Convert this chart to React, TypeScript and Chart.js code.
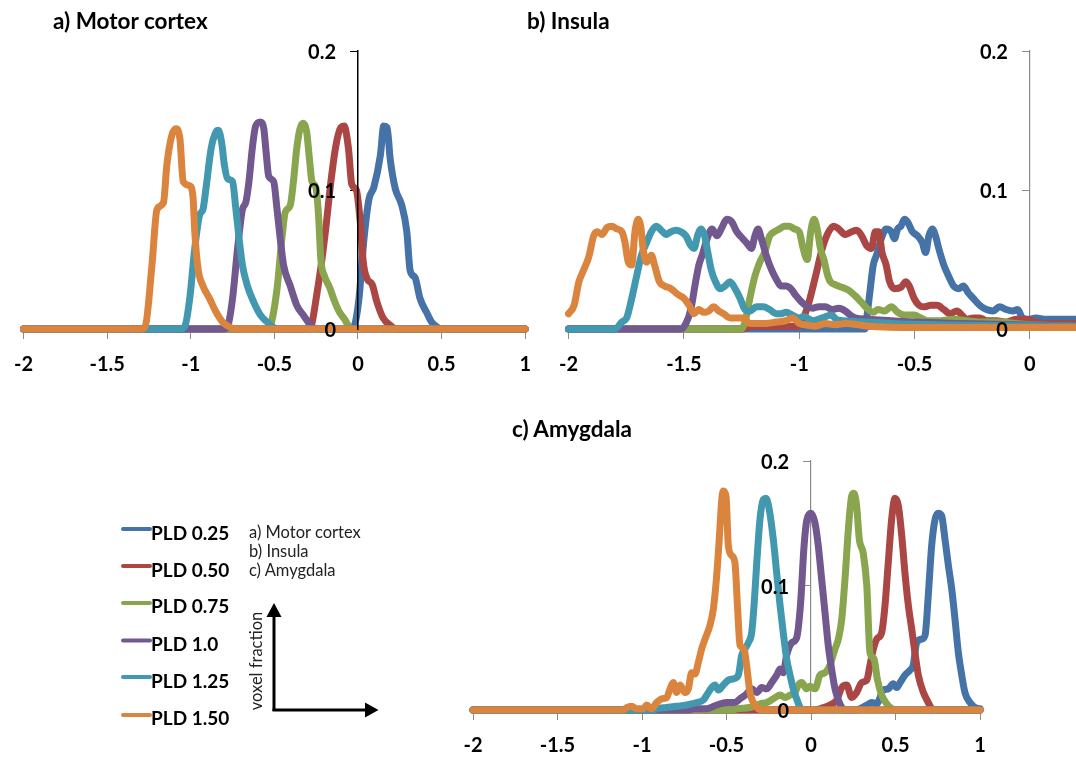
import React, { useEffect, useRef } from "react";
import { Chart, registerables } from "chart.js";

Chart.register(...registerables);

type Pt = [number, number];

const SERIES_LABELS = ["PLD 0.25", "PLD 0.50", "PLD 0.75", "PLD 1.0", "PLD 1.25", "PLD 1.50"];
const SERIES_COLORS = ["#4572A7", "#AA4643", "#89A54E", "#71588F", "#4198AF", "#DB843D"];

const X_TICKS_FULL = [-2, -1.5, -1, -0.5, 0, 0.5, 1];
const X_TICKS_INSULA = [-2, -1.5, -1, -0.5, 0];
const Y_TICKS = [0, 0.1, 0.2];

const PANEL_TITLES = ["a) Motor cortex", "b) Insula", "c) Amygdala"];
const AXIS_NOTE = ["a) Motor cortex", "b) Insula", "c) Amygdala"];
const Y_AXIS_NAME = "voxel fraction";

// ---------- a) Motor cortex ----------
const A_PLD025: Pt[] = [[-2,0],[-0.04,0],[-0.022,0.002],[0.006,0.022],[0.036,0.065],[0.065,0.093],[0.095,0.102],[0.134,0.125],[0.154,0.146],[0.174,0.145],[0.193,0.122],[0.223,0.101],[0.262,0.089],[0.292,0.07],[0.312,0.042],[0.341,0.037],[0.371,0.022],[0.41,0.012],[0.44,0.005],[0.479,0.001],[0.5,0],[1,0]];
const A_PLD050: Pt[] = [[-2,0],[-0.3,0],[-0.28,0.002],[-0.25,0.022],[-0.22,0.046],[-0.191,0.074],[-0.162,0.106],[-0.132,0.132],[-0.102,0.145],[-0.083,0.146],[-0.057,0.13],[-0.037,0.104],[-0.01,0.1],[0.016,0.074],[0.032,0.048],[0.055,0.036],[0.085,0.032],[0.112,0.02],[0.15,0.008],[0.2,0.002],[0.23,0],[1,0]];
const A_PLD075: Pt[] = [[-2,0],[-0.54,0],[-0.524,0.002],[-0.484,0.029],[-0.455,0.065],[-0.435,0.084],[-0.405,0.089],[-0.386,0.106],[-0.366,0.13],[-0.347,0.144],[-0.327,0.148],[-0.307,0.142],[-0.29,0.122],[-0.275,0.106],[-0.252,0.102],[-0.236,0.082],[-0.222,0.05],[-0.2,0.038],[-0.17,0.03],[-0.14,0.02],[-0.11,0.012],[-0.08,0.007],[-0.055,0.002],[-0.03,0],[1,0]];
const A_PLD100: Pt[] = [[-2,0],[-0.8,0],[-0.779,0.002],[-0.75,0.022],[-0.72,0.058],[-0.691,0.086],[-0.671,0.091],[-0.652,0.106],[-0.632,0.13],[-0.612,0.146],[-0.583,0.149],[-0.563,0.144],[-0.55,0.128],[-0.534,0.11],[-0.504,0.106],[-0.484,0.086],[-0.465,0.065],[-0.445,0.046],[-0.405,0.031],[-0.366,0.017],[-0.327,0.01],[-0.277,0.002],[-0.25,0],[1,0]];
const A_PLD125: Pt[] = [[-2,0],[-1.06,0],[-1.035,0.002],[-1.006,0.022],[-0.976,0.058],[-0.947,0.082],[-0.927,0.086],[-0.907,0.103],[-0.878,0.13],[-0.848,0.142],[-0.835,0.143],[-0.815,0.134],[-0.799,0.118],[-0.779,0.108],[-0.75,0.106],[-0.73,0.086],[-0.711,0.065],[-0.691,0.046],[-0.661,0.031],[-0.622,0.019],[-0.583,0.01],[-0.543,0.005],[-0.504,0.001],[-0.48,0],[1,0]];
const A_PLD150: Pt[] = [[-2,0],[-1.3,0],[-1.272,0.002],[-1.232,0.046],[-1.202,0.086],[-1.163,0.091],[-1.143,0.118],[-1.114,0.139],[-1.088,0.144],[-1.065,0.137],[-1.045,0.106],[-1.006,0.103],[-0.986,0.094],[-0.976,0.07],[-0.956,0.043],[-0.927,0.031],[-0.888,0.022],[-0.848,0.012],[-0.809,0.005],[-0.76,0.001],[-0.72,0],[1,0]];

// ---------- b) Insula ----------
const B_PLD025: Pt[] = [[-2,0],[-0.715,0],[-0.708,0.007],[-0.694,0.026],[-0.679,0.046],[-0.665,0.053],[-0.644,0.065],[-0.623,0.072],[-0.601,0.07],[-0.587,0.065],[-0.573,0.072],[-0.559,0.074],[-0.544,0.079],[-0.53,0.077],[-0.509,0.07],[-0.487,0.067],[-0.466,0.062],[-0.452,0.055],[-0.438,0.067],[-0.423,0.072],[-0.409,0.067],[-0.395,0.058],[-0.373,0.046],[-0.352,0.038],[-0.331,0.031],[-0.309,0.029],[-0.288,0.031],[-0.267,0.026],[-0.245,0.022],[-0.217,0.017],[-0.188,0.014],[-0.16,0.013],[-0.131,0.016],[-0.103,0.014],[-0.074,0.013],[-0.053,0.014],[-0.032,0.008],[-0.003,0.007],[0.026,0.008],[0.068,0.007],[0.125,0.007],[0.2,0.007]];
const B_PLD050: Pt[] = [[-2,0],[-1.25,0],[-1.2,0.002],[-1.0,0.002],[-0.985,0.005],[-0.972,0.012],[-0.965,0.015],[-0.929,0.038],[-0.9,0.058],[-0.872,0.07],[-0.85,0.074],[-0.829,0.072],[-0.801,0.068],[-0.772,0.07],[-0.751,0.071],[-0.729,0.067],[-0.708,0.06],[-0.687,0.058],[-0.67,0.07],[-0.655,0.07],[-0.641,0.055],[-0.623,0.046],[-0.608,0.034],[-0.587,0.029],[-0.559,0.03],[-0.537,0.034],[-0.523,0.031],[-0.502,0.022],[-0.48,0.017],[-0.459,0.016],[-0.43,0.017],[-0.402,0.017],[-0.373,0.014],[-0.345,0.011],[-0.316,0.013],[-0.295,0.01],[-0.274,0.007],[-0.245,0.008],[-0.217,0.008],[-0.188,0.006],[-0.145,0.006],[-0.103,0.005],[-0.06,0.007],[-0.017,0.007],[0.026,0.005],[0.068,0.004],[0.125,0.004],[0.2,0.004]];
const B_PLD075: Pt[] = [[-2,0],[-1.25,0],[-1.235,0.005],[-1.214,0.022],[-1.192,0.038],[-1.171,0.048],[-1.15,0.055],[-1.128,0.067],[-1.107,0.07],[-1.085,0.072],[-1.064,0.074],[-1.043,0.074],[-1.021,0.072],[-1.0,0.07],[-0.983,0.058],[-0.965,0.05],[-0.95,0.07],[-0.936,0.079],[-0.922,0.072],[-0.908,0.058],[-0.893,0.05],[-0.879,0.04],[-0.865,0.034],[-0.844,0.032],[-0.815,0.03],[-0.786,0.028],[-0.758,0.024],[-0.729,0.019],[-0.701,0.014],[-0.679,0.012],[-0.658,0.014],[-0.63,0.013],[-0.601,0.016],[-0.573,0.012],[-0.544,0.01],[-0.502,0.01],[-0.473,0.008],[-0.444,0.006],[-0.388,0.006],[-0.331,0.007],[-0.274,0.006],[-0.217,0.005],[-0.131,0.005],[-0.06,0.004],[0.011,0.003],[0.2,0.002]];
const B_PLD100: Pt[] = [[-2,0],[-1.513,0],[-1.491,0.004],[-1.47,0.014],[-1.449,0.034],[-1.435,0.046],[-1.421,0.053],[-1.399,0.065],[-1.378,0.072],[-1.356,0.067],[-1.335,0.073],[-1.314,0.079],[-1.292,0.077],[-1.271,0.07],[-1.25,0.066],[-1.228,0.062],[-1.207,0.058],[-1.192,0.067],[-1.178,0.072],[-1.164,0.065],[-1.143,0.053],[-1.121,0.043],[-1.1,0.036],[-1.079,0.031],[-1.057,0.031],[-1.036,0.029],[-1.014,0.024],[-0.993,0.02],[-0.972,0.017],[-0.943,0.015],[-0.915,0.016],[-0.886,0.016],[-0.858,0.014],[-0.829,0.015],[-0.8,0.013],[-0.779,0.01],[-0.758,0.008],[-0.7,0.007],[-0.6,0.006],[-0.5,0.005],[-0.3,0.004],[0.2,0.002]];
const B_PLD125: Pt[] = [[-2,0],[-1.798,0],[-1.769,0.005],[-1.748,0.008],[-1.726,0.022],[-1.705,0.038],[-1.684,0.053],[-1.662,0.062],[-1.641,0.07],[-1.62,0.074],[-1.598,0.071],[-1.577,0.068],[-1.556,0.07],[-1.534,0.071],[-1.513,0.07],[-1.491,0.067],[-1.47,0.06],[-1.456,0.058],[-1.439,0.068],[-1.425,0.072],[-1.41,0.067],[-1.396,0.055],[-1.382,0.043],[-1.363,0.034],[-1.342,0.029],[-1.321,0.031],[-1.3,0.034],[-1.278,0.029],[-1.256,0.022],[-1.235,0.014],[-1.214,0.013],[-1.185,0.016],[-1.156,0.016],[-1.128,0.014],[-1.1,0.011],[-1.079,0.011],[-1.057,0.012],[-1.029,0.01],[-1.0,0.008],[-0.98,0.009],[-0.94,0.006],[-0.9,0.008],[-0.86,0.01],[-0.84,0.007],[-0.81,0.006],[-0.7,0.005],[-0.6,0.004],[-0.4,0.003],[0.2,0.002]];
const B_PLD150: Pt[] = [[-2,0.011],[-1.976,0.017],[-1.955,0.034],[-1.933,0.043],[-1.912,0.052],[-1.891,0.067],[-1.876,0.07],[-1.855,0.068],[-1.833,0.073],[-1.812,0.074],[-1.791,0.072],[-1.769,0.07],[-1.755,0.062],[-1.741,0.048],[-1.726,0.046],[-1.712,0.07],[-1.698,0.079],[-1.687,0.074],[-1.677,0.058],[-1.662,0.048],[-1.641,0.053],[-1.627,0.046],[-1.606,0.034],[-1.584,0.031],[-1.556,0.029],[-1.527,0.025],[-1.499,0.022],[-1.477,0.017],[-1.456,0.011],[-1.435,0.014],[-1.413,0.012],[-1.392,0.013],[-1.371,0.016],[-1.349,0.013],[-1.328,0.011],[-1.3,0.008],[-1.271,0.008],[-1.242,0.008],[-1.214,0.004],[-1.185,0.004],[-1.143,0.004],[-1.1,0.005],[-1.057,0.006],[-1.029,0.008],[-1.0,0.004],[-0.972,0.003],[-0.929,0.002],[-0.886,0.004],[-0.843,0.003],[-0.8,0.004],[-0.7,0.002],[-0.5,0.001],[0.2,0.001]];

// ---------- c) Amygdala ----------
const C_PLD025: Pt[] = [[-2,0],[0.27,0],[0.29,0.001],[0.33,0.004],[0.359,0.006],[0.389,0.005],[0.428,0.016],[0.457,0.017],[0.487,0.021],[0.507,0.018],[0.527,0.022],[0.556,0.028],[0.586,0.032],[0.605,0.036],[0.625,0.054],[0.655,0.057],[0.675,0.06],[0.694,0.092],[0.714,0.132],[0.734,0.153],[0.753,0.158],[0.773,0.156],[0.793,0.137],[0.813,0.116],[0.833,0.097],[0.852,0.073],[0.872,0.046],[0.892,0.028],[0.911,0.014],[0.941,0.006],[0.97,0.002],[1,0.001]];
const C_PLD050: Pt[] = [[-2,0],[0.03,0],[0.053,0.001],[0.112,0.004],[0.152,0.008],[0.182,0.018],[0.211,0.02],[0.241,0.01],[0.27,0.014],[0.3,0.022],[0.33,0.024],[0.349,0.036],[0.369,0.049],[0.389,0.057],[0.418,0.062],[0.438,0.084],[0.457,0.118],[0.477,0.153],[0.497,0.17],[0.517,0.164],[0.537,0.14],[0.556,0.11],[0.576,0.084],[0.596,0.065],[0.615,0.046],[0.635,0.028],[0.665,0.014],[0.694,0.006],[0.714,0.001],[0.73,0],[1,0]];
const C_PLD075: Pt[] = [[-2,0],[-0.46,0],[-0.44,0.001],[-0.361,0.002],[-0.302,0.005],[-0.262,0.006],[-0.223,0.009],[-0.183,0.012],[-0.154,0.01],[-0.124,0.012],[-0.095,0.014],[-0.075,0.02],[-0.055,0.022],[-0.025,0.017],[-0.006,0.019],[0.024,0.017],[0.053,0.028],[0.083,0.03],[0.112,0.036],[0.142,0.049],[0.162,0.057],[0.182,0.073],[0.201,0.105],[0.221,0.145],[0.241,0.172],[0.254,0.174],[0.27,0.164],[0.286,0.137],[0.309,0.126],[0.33,0.1],[0.349,0.046],[0.373,0.041],[0.392,0.025],[0.418,0.012],[0.448,0.005],[0.478,0.001],[0.5,0],[1,0]];
const C_PLD100: Pt[] = [[-2,0],[-0.72,0],[-0.696,0.001],[-0.617,0.001],[-0.558,0.004],[-0.499,0.006],[-0.45,0.006],[-0.42,0.009],[-0.381,0.013],[-0.351,0.017],[-0.321,0.014],[-0.292,0.018],[-0.262,0.017],[-0.233,0.022],[-0.203,0.028],[-0.183,0.033],[-0.164,0.03],[-0.144,0.044],[-0.114,0.054],[-0.085,0.058],[-0.062,0.085],[-0.041,0.132],[-0.024,0.153],[0,0.158],[0.024,0.15],[0.043,0.132],[0.063,0.105],[0.083,0.078],[0.102,0.052],[0.122,0.033],[0.142,0.017],[0.162,0.008],[0.182,0.002],[0.2,0],[1,0]];
const C_PLD125: Pt[] = [[-2,0],[-0.93,0],[-0.913,0.001],[-0.854,0.002],[-0.795,0.003],[-0.736,0.004],[-0.676,0.006],[-0.637,0.008],[-0.608,0.014],[-0.588,0.018],[-0.568,0.02],[-0.548,0.016],[-0.519,0.02],[-0.489,0.024],[-0.46,0.025],[-0.43,0.028],[-0.41,0.044],[-0.391,0.049],[-0.371,0.054],[-0.351,0.062],[-0.337,0.084],[-0.321,0.118],[-0.302,0.153],[-0.282,0.169],[-0.266,0.17],[-0.247,0.161],[-0.223,0.137],[-0.203,0.11],[-0.183,0.084],[-0.164,0.062],[-0.144,0.041],[-0.124,0.028],[-0.105,0.017],[-0.085,0.009],[-0.065,0.002],[-0.05,0],[1,0]];
const C_PLD150: Pt[] = [[-2,0],[-1.11,0],[-1.091,0.002],[-1.061,0.003],[-1.031,0.001],[-0.992,0.001],[-0.972,0.004],[-0.943,0.001],[-0.913,0.006],[-0.883,0.009],[-0.854,0.01],[-0.834,0.017],[-0.815,0.022],[-0.795,0.014],[-0.775,0.02],[-0.746,0.014],[-0.726,0.017],[-0.706,0.03],[-0.686,0.029],[-0.667,0.038],[-0.647,0.049],[-0.627,0.057],[-0.598,0.068],[-0.578,0.081],[-0.558,0.108],[-0.543,0.137],[-0.528,0.169],[-0.519,0.176],[-0.503,0.172],[-0.489,0.132],[-0.469,0.124],[-0.45,0.118],[-0.434,0.081],[-0.42,0.052],[-0.396,0.049],[-0.381,0.036],[-0.361,0.014],[-0.341,0.006],[-0.312,0.001],[-0.29,0],[1,0]];

const PANEL_A = [A_PLD025, A_PLD050, A_PLD075, A_PLD100, A_PLD125, A_PLD150];
const PANEL_B = [B_PLD025, B_PLD050, B_PLD075, B_PLD100, B_PLD125, B_PLD150];
const PANEL_C = [C_PLD025, C_PLD050, C_PLD075, C_PLD100, C_PLD125, C_PLD150];

const FONT_FAMILY = "Lato, 'Open Sans', 'DejaVu Sans', sans-serif";
const TICK_FONT_SIZE = 20;

const fmt = (v: number) => String(Math.round(v * 10) / 10);

const yTickText = {
  id: "yTickText",
  afterDatasetsDraw(chart: any, _args: any, opts: any) {
    const xs = chart.scales.x;
    const ys = chart.scales.y;
    const ctx = chart.ctx;
    const x0 = xs.getPixelForValue(0);
    ctx.save();
    ctx.font = `bold ${TICK_FONT_SIZE}px ${FONT_FAMILY}`;
    ctx.fillStyle = "#000";
    ctx.textAlign = "right";
    ctx.textBaseline = "middle";
    ys.ticks.forEach((t: any) => {
      ctx.fillText(fmt(t.value), x0 - (opts.offset ?? 22), ys.getPixelForValue(t.value) + 2);
    });
    ctx.restore();
  },
};

type PanelProps = {
  series: Pt[][];
  xMin: number;
  xMax: number;
  xTicks: number[];
  axisColor: string;
  axisOnTop: boolean;
  left: number;
  top: number;
  width: number;
  height: number;
  padding: { left: number; right: number; top: number; bottom: number };
};

function Panel(p: PanelProps) {
  const ref = useRef<HTMLCanvasElement>(null);
  useEffect(() => {
    const n = p.series.length;
    const chart = new Chart(ref.current as HTMLCanvasElement, {
      type: "line",
      data: {
        datasets: p.series.map((pts, i) => ({
          label: SERIES_LABELS[i],
          data: pts.map(([x, y]) => ({ x, y })),
          borderColor: SERIES_COLORS[i],
          backgroundColor: SERIES_COLORS[i],
          borderWidth: 7,
          pointRadius: 0,
          fill: false,
          cubicInterpolationMode: "monotone",
          borderJoinStyle: "round",
          borderCapStyle: "round",
          order: n - 1 - i,
          clip: 8,
        })),
      },
      options: {
        animation: false,
        responsive: false,
        events: [],
        layout: { padding: p.padding },
        plugins: {
          legend: { display: false },
          tooltip: { enabled: false },
          yTickText: { offset: 22 },
        } as any,
        scales: {
          x: {
            type: "linear",
            position: "bottom",
            min: p.xMin,
            max: p.xMax,
            afterBuildTicks: (axis: any) => {
              axis.ticks = p.xTicks.map((v) => ({ value: v }));
            },
            grid: { display: true, drawOnChartArea: false, drawTicks: true, tickLength: 10, color: "#8a8a8a", lineWidth: 1 },
            border: { display: true, color: "#8a8a8a", width: 1 },
            ticks: {
              color: "#000",
              font: { family: FONT_FAMILY, weight: "bold", size: TICK_FONT_SIZE },
              padding: 14,
              maxRotation: 0,
              minRotation: 0,
              autoSkip: false,
              callback: (v: any) => fmt(Number(v)),
            },
          },
          y: {
            type: "linear",
            position: { x: 0 } as any,
            min: 0,
            max: 0.2,
            afterBuildTicks: (axis: any) => {
              axis.ticks = Y_TICKS.map((v) => ({ value: v }));
            },
            grid: { display: true, drawOnChartArea: false, drawTicks: true, tickLength: 7, color: p.axisColor, lineWidth: 1 },
            border: { display: true, color: p.axisColor, width: p.axisOnTop ? 1.5 : 1.2, z: p.axisOnTop ? 1 : 0 } as any,
            ticks: { display: false },
          },
        },
      } as any,
      plugins: [yTickText as any],
    });
    return () => chart.destroy();
  }, []);
  return (
    <canvas
      ref={ref}
      width={p.width}
      height={p.height}
      style={{ position: "absolute", left: p.left, top: p.top, width: p.width, height: p.height }}
    />
  );
}

const LEGEND_LINE_Y = [529, 566, 603, 640.5, 677, 715];
const LEGEND_TEXT_Y = [540, 576.5, 613, 650.5, 687.5, 725];

export default function App() {
  return (
    <div style={{ position: "absolute", left: 0, top: 0, width: 1076, height: 760, overflow: "hidden", background: "#fff" }}>
      <Panel
        series={PANEL_A}
        xMin={-2}
        xMax={1}
        xTicks={X_TICKS_FULL}
        axisColor="#000"
        axisOnTop={true}
        left={0}
        top={0}
        width={545}
        height={400}
        padding={{ left: 20, right: 17, top: 51, bottom: 9 }}
      />
      <Panel
        series={PANEL_B}
        xMin={-2}
        xMax={0.2}
        xTicks={X_TICKS_INSULA}
        axisColor="#8a8a8a"
        axisOnTop={false}
        left={545}
        top={0}
        width={531}
        height={400}
        padding={{ left: 18, right: 0, top: 51, bottom: 9 }}
      />
      <Panel
        series={PANEL_C}
        xMin={-2}
        xMax={1}
        xTicks={X_TICKS_FULL}
        axisColor="#8a8a8a"
        axisOnTop={false}
        left={440}
        top={400}
        width={560}
        height={372}
        padding={{ left: 33, right: 20, top: 61, bottom: 0 }}
      />
      <svg width={1076} height={760} style={{ position: "absolute", left: 0, top: 0, pointerEvents: "none" }}>
        <g fontFamily={FONT_FAMILY} fontWeight="bold" fontSize={22.5} fill="#000">
          <text x={53} y={29}>{PANEL_TITLES[0]}</text>
          <text x={527} y={29}>{PANEL_TITLES[1]}</text>
          <text x={512} y={437}>{PANEL_TITLES[2]}</text>
        </g>
        {SERIES_LABELS.map((lab, i) => (
          <g key={lab}>
            <line x1={123} x2={150} y1={LEGEND_LINE_Y[i]} y2={LEGEND_LINE_Y[i]} stroke={SERIES_COLORS[i]} strokeWidth={4} strokeLinecap="round" />
            <text x={151} y={LEGEND_TEXT_Y[i]} fontFamily={FONT_FAMILY} fontWeight="bold" fontSize={19} fill="#000">{lab}</text>
          </g>
        ))}
        <g fontFamily={FONT_FAMILY} fontSize={16.5} fill="#222">
          <text x={249} y={538}>{AXIS_NOTE[0]}</text>
          <text x={249} y={557}>{AXIS_NOTE[1]}</text>
          <text x={249} y={576}>{AXIS_NOTE[2]}</text>
          <text transform="translate(262,661) rotate(-90)" textAnchor="middle">{Y_AXIS_NAME}</text>
        </g>
        <g stroke="#000" strokeWidth={3} fill="none">
          <line x1={274} y1={711} x2={274} y2={614} />
          <line x1={272.5} y1={710} x2={367} y2={710} />
        </g>
        <polygon points="274,603 266.5,617 281.5,617" fill="#000" />
        <polygon points="378.5,710 365,702.5 365,717.5" fill="#000" />
      </svg>
    </div>
  );
}
